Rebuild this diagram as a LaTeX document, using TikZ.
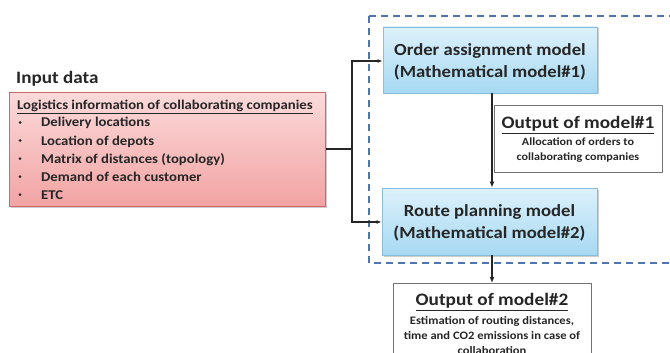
\documentclass[tikz,border=0pt]{standalone}
\usepackage{fontspec}
\setmainfont[FakeStretch=1.1]{Carlito}
\usetikzlibrary{arrows.meta,shadows}
\definecolor{redtop}{HTML}{FBDADA}
\definecolor{redbot}{HTML}{F2A3A3}
\definecolor{redline}{HTML}{D06A68}
\definecolor{bluetop}{HTML}{DDF1FB}
\definecolor{bluebot}{HTML}{A6D9F2}
\definecolor{blueline}{HTML}{86BEDD}
\definecolor{dashblue}{HTML}{5076AC}
\definecolor{ink}{HTML}{262626}
\tikzset{
  inbox/.style={draw=redline, line width=0.8pt, top color=redtop, bottom color=redbot,
    drop shadow={shadow xshift=1.5pt, shadow yshift=-1.5pt, fill=black!40, opacity=0.5}},
  modelbox/.style={draw=blueline, line width=0.8pt, top color=bluetop, bottom color=bluebot,
    drop shadow={shadow xshift=1.5pt, shadow yshift=-1.5pt, fill=black!40, opacity=0.5}},
  mtext/.style={font=\fontsize{17}{22}\selectfont\bfseries, text=ink, align=center, inner sep=0pt},
  outbox/.style={draw=black!55, line width=0.6pt, fill=white},
  conn/.style={draw=ink, line width=1.1pt, -{Latex[length=5pt,width=4pt]}},
  thick conn/.style={draw=ink, line width=2.2pt, -{Latex[length=6pt,width=5pt]}},
  otitle/.style={font=\fontsize{17.5}{18}\selectfont\bfseries, text=ink},
  osmall/.style={font=\fontsize{11}{14.5}\selectfont\bfseries, text=ink, align=center},
  itm/.style={font=\fontsize{13.4}{14}\selectfont\bfseries, text=ink, anchor=base west, inner sep=0pt},
  dot/.style={circle, fill=ink, inner sep=0pt, minimum size=3pt},
}
\begin{document}
\begin{tikzpicture}[x=1pt,y=-1pt]
\useasboundingbox (0,0) rectangle (670,353);
% dashed frame
\draw[dashblue, line width=1.3pt, dash pattern=on 7pt off 5pt] (369,16) -- (680,16) (369,16) -- (369,263) -- (680,263);
% input box
\node[inbox, minimum width=316pt, minimum height=114pt, anchor=north west, inner sep=0pt] (inp) at (9,92) {};
\node[font=\fontsize{17.4}{20}\selectfont\bfseries, text=ink, anchor=base west, inner sep=0pt] (title) at (16,84) {Input data};
\node[itm] (head) at (17,110) {\underline{Logistics information of collaborating companies}};
\foreach \t [count=\i] in {Delivery locations,Location of depots,Matrix of distances (topology),Demand of each customer,ETC}{
  \node[dot] (b\i) at (20,{104.5+18*\i}) {};
  \node[itm] (t\i) at (41,{109+18*\i}) {\t};
}
% model boxes
\node[modelbox, minimum width=214pt, minimum height=66pt, inner sep=0pt] (m1) at (490,60) {};
\node[mtext] (m1t) at (490,62) {Order assignment model\\(Mathematical model\#1)};
\node[modelbox, minimum width=215pt, minimum height=67pt, inner sep=0pt] (m2) at (489.5,221.5) {};
\node[mtext] (m2t) at (489.5,223) {Route planning model\\(Mathematical model\#2)};
% output 1
\node[outbox, minimum width=168pt, minimum height=67pt, anchor=north west, inner sep=0pt] (o1) at (494,105) {};
\node[otitle] (o1t) at (578,125) {\underline{Output of model\#1}};
\node[osmall] (o1s) at (578,150) {Allocation of orders to\\collaborating companies};
% output 2
\node[outbox, minimum width=198pt, minimum height=90pt, anchor=north west, inner sep=0pt] (o2) at (393,283) {};
\node[otitle] (o2t) at (492,302) {\underline{Output of model\#2}};
\node[osmall, font=\fontsize{11.4}{15}\selectfont\bfseries] (o2s) at (492,336) {Estimation of routing distances,\\time and CO2 emissions in case of\\collaboration};
% connectors
\coordinate (j) at (352,149);
\draw[ink, line width=1.1pt] (inp.east |- j) -- (j);
\draw[conn] (j) |- (m1.west |- 0,61);
\draw[conn] (j) |- (m2.west |- 0,222);
\draw[thick conn] (m1.south -| 492,0) -- (m2.north -| 492,0);
\draw[thick conn] (m2.south -| 492,0) -- (o2.north -| 492,0);
\end{tikzpicture}
\end{document}
